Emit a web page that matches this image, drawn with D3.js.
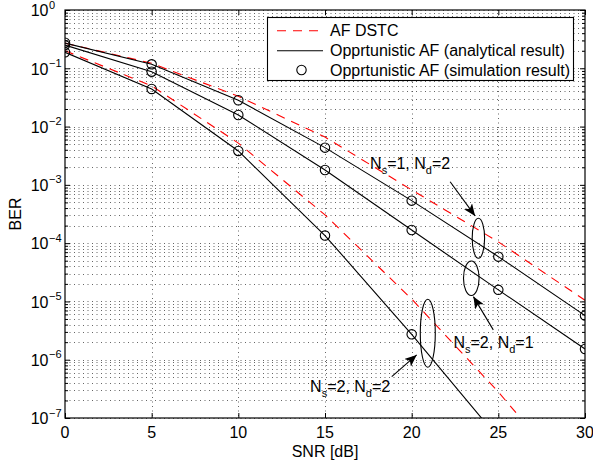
<!DOCTYPE html>
<html>
<head>
<meta charset="utf-8">
<script src="https://d3js.org/d3.v7.min.js"></script>
<style>
  body { margin: 0; background: #fff; }
  text { font-family: "Liberation Sans", Arial, Helvetica, sans-serif; }
</style>
</head>
<body>
<script>
// ---- data ----
var snr = [0, 5, 10, 15, 20, 25, 30];
var xTicks = [0, 5, 10, 15, 20, 25, 30];
var yExponents = [0, -1, -2, -3, -4, -5, -6, -7];

// AF DSTC (red dashed)
var afDstcA = [0.27, 0.122, 0.033, 0.0066, 8.2e-4, 1.05e-4, 1.05e-5];
var afDstcB = [0.20, 0.05, 0.0052, 3.05e-4, 1.1e-5, 2.8e-7, 5e-9];

// opportunistic AF, analytical (black solid)
var oppAnaS1D2 = [0.27, 0.117, 0.0283, 0.00435, 5.36e-4, 5.87e-5, 5.71e-6];
var oppAnaS2D1 = [0.25, 0.0875, 0.0158, 0.0018, 1.68e-4, 1.58e-5, 1.53e-6];
var oppAnaS2D2 = [0.188, 0.0442, 0.00382, 1.35e-4, 2.73e-6, 4.5e-8, 6e-10];

// opportunistic AF, simulation (circles)
var oppSimS1D2 = [0.275, 0.117, 0.0283, 0.00435, 5.36e-4, 5.87e-5, 5.71e-6];
var oppSimS2D1 = [0.25, 0.0875, 0.0158, 0.0018, 1.68e-4, 1.58e-5, 1.53e-6];
var oppSimS2D2 = [0.188, 0.0442, 0.00382, 1.35e-4, 2.73e-6];

var legendLabels = ['AF DSTC', 'Opprtunistic AF (analytical result)', 'Opprtunistic AF (simulation result)'];

var W = 593, H = 468;
var pLeft = 65, pRight = 585, pTop = 10, pBottom = 418;
var fs = '16px', fsSmall = '11px';

var svg = d3.select('body').append('svg').attr('width', W).attr('height', H);

var x = d3.scaleLinear().domain([0, 30]).range([pLeft, pRight]);
var y = d3.scaleLog().domain([1e-7, 1]).range([pBottom, pTop]);

var majorY = yExponents.map(function (e) { return Math.pow(10, e); });
var minorY = [];
for (var e = -7; e < 0; e++) {
    for (var k = 2; k <= 9; k++) minorY.push(k * Math.pow(10, e));
}

svg.append('clipPath').attr('id', 'plotClip')
    .append('rect')
    .attr('x', pLeft).attr('y', pTop)
    .attr('width', pRight - pLeft).attr('height', pBottom - pTop);

// ---- grid ----
var grid = svg.append('g')
    .attr('stroke', '#000')
    .attr('stroke-width', 0.8)
    .attr('stroke-dasharray', '1,3.5')
    .attr('opacity', 0.75);

grid.selectAll('line.hy')
    .data(majorY.concat(minorY))
    .enter().append('line')
    .attr('x1', pLeft).attr('x2', pRight)
    .attr('y1', function (d) { return Math.round(y(d)) + 0.5; })
    .attr('y2', function (d) { return Math.round(y(d)) + 0.5; });

grid.selectAll('line.vx')
    .data(xTicks.slice(1, -1))
    .enter().append('line')
    .attr('y1', pTop).attr('y2', pBottom)
    .attr('x1', function (d) { return Math.round(x(d)) + 0.5; })
    .attr('x2', function (d) { return Math.round(x(d)) + 0.5; });

// ---- curves ----
var plot = svg.append('g').attr('clip-path', 'url(#plotClip)');

var line = d3.line()
    .x(function (d, i) { return x(snr[i]); })
    .y(function (d) { return y(d); });

[afDstcA, afDstcB].forEach(function (s) {
    plot.append('path')
        .attr('d', line(s))
        .attr('fill', 'none')
        .attr('stroke', '#ff0000')
        .attr('stroke-width', 1.1)
        .attr('stroke-dasharray', '9,7');
});

[oppAnaS1D2, oppAnaS2D1, oppAnaS2D2].forEach(function (s) {
    plot.append('path')
        .attr('d', line(s))
        .attr('fill', 'none')
        .attr('stroke', '#000')
        .attr('stroke-width', 1.1);
});

[oppSimS1D2, oppSimS2D1, oppSimS2D2].forEach(function (s) {
    plot.selectAll(null)
        .data(s)
        .enter().append('circle')
        .attr('cx', function (d, i) { return x(snr[i]); })
        .attr('cy', function (d) { return y(d); })
        .attr('r', 4.7)
        .attr('fill', 'none')
        .attr('stroke', '#000')
        .attr('stroke-width', 1.1);
});

// ---- axes box and ticks ----
svg.append('rect')
    .attr('x', pLeft).attr('y', pTop)
    .attr('width', pRight - pLeft).attr('height', pBottom - pTop)
    .attr('fill', 'none').attr('stroke', '#000').attr('stroke-width', 1.2);

var noLabel = function () { return ''; };
function tickAxis(axis, transform) {
    var g = svg.append('g').attr('transform', transform).call(axis);
    g.select('.domain').remove();
    g.selectAll('line').attr('stroke', '#000');
    return g;
}
tickAxis(d3.axisBottom(x).tickValues(xTicks).tickSize(-5).tickFormat(noLabel), 'translate(0,' + pBottom + ')');
tickAxis(d3.axisTop(x).tickValues(xTicks).tickSize(-5).tickFormat(noLabel), 'translate(0,' + pTop + ')');
tickAxis(d3.axisLeft(y).tickValues(majorY).tickSize(-5).tickFormat(noLabel), 'translate(' + pLeft + ',0)');
tickAxis(d3.axisRight(y).tickValues(majorY).tickSize(-5).tickFormat(noLabel), 'translate(' + pRight + ',0)');
tickAxis(d3.axisLeft(y).tickValues(minorY).tickSize(-3).tickFormat(noLabel), 'translate(' + pLeft + ',0)');
tickAxis(d3.axisRight(y).tickValues(minorY).tickSize(-3).tickFormat(noLabel), 'translate(' + pRight + ',0)');

// tick labels
svg.selectAll('text.xt')
    .data(xTicks)
    .enter().append('text')
    .attr('x', function (d) { return x(d); })
    .attr('y', pBottom + 20)
    .attr('text-anchor', 'middle')
    .attr('font-size', fs)
    .text(function (d) { return d; });

var yl = svg.selectAll('g.yt')
    .data(yExponents)
    .enter().append('g')
    .attr('transform', function (d) { return 'translate(0,' + y(Math.pow(10, d)) + ')'; });
yl.append('text')
    .attr('x', 48.5).attr('y', 6.3)
    .attr('text-anchor', 'end')
    .attr('font-size', fs)
    .text('10');
yl.append('text')
    .attr('x', 49).attr('y', -1.5)
    .attr('font-size', fsSmall)
    .text(function (d) { return d === 0 ? '0' : '\u2212' + (-d); });

svg.append('text')
    .attr('x', (pLeft + pRight) / 2).attr('y', 457)
    .attr('text-anchor', 'middle')
    .attr('font-size', fs)
    .text('SNR [dB]');

svg.append('text')
    .attr('transform', 'translate(21,' + (pTop + pBottom) / 2 + ') rotate(-90)')
    .attr('text-anchor', 'middle')
    .attr('font-size', fs)
    .text('BER');

// ---- annotations (data coordinates) ----
var defs = svg.append('defs');
defs.append('marker')
    .attr('id', 'head')
    .attr('viewBox', '0 0 12 10')
    .attr('refX', 12).attr('refY', 5)
    .attr('markerWidth', 12).attr('markerHeight', 10)
    .attr('markerUnits', 'userSpaceOnUse')
    .attr('orient', 'auto')
    .append('path')
    .attr('d', 'M0,0 L12,5 L0,10 L3,5 Z')
    .attr('fill', '#000');

var notes = [
    { s: '1', d: '2', tx: 17.6, ty: 1.85e-3, ax1: 22.22, ay1: 1.13e-3, ax2: 23.66, ay2: 2.93e-4, ex: 23.85, ey: 1.21e-4, rx: 6.2, ry: 20 },
    { s: '2', d: '1', tx: 22.41, ty: 1.57e-6, ax1: 24.71, ay1: 3.25e-6, ax2: 23.56, ay2: 1.21e-5, ex: 23.44, ey: 2.5e-5, rx: 7.8, ry: 17.3 },
    { s: '2', d: '2', tx: 14.14, ty: 2.84e-7, ax1: 18.85, ay1: 5.13e-7, ax2: 20.29, ay2: 1.21e-6, ex: 20.93, ey: 2.85e-6, rx: 7.5, ry: 34 }
];

notes.forEach(function (n) {
    svg.append('ellipse')
        .attr('cx', x(n.ex)).attr('cy', y(n.ey))
        .attr('rx', n.rx).attr('ry', n.ry)
        .attr('fill', 'none').attr('stroke', '#000').attr('stroke-width', 1.1);
    svg.append('line')
        .attr('x1', x(n.ax1)).attr('y1', y(n.ay1))
        .attr('x2', x(n.ax2)).attr('y2', y(n.ay2))
        .attr('stroke', '#000').attr('stroke-width', 1.1)
        .attr('marker-end', 'url(#head)');
    var t = svg.append('text')
        .attr('x', x(n.tx)).attr('y', y(n.ty))
        .attr('font-size', fs);
    t.append('tspan').text('N');
    t.append('tspan').attr('dy', 5).attr('font-size', fsSmall).text('s');
    t.append('tspan').attr('dy', -5).text('=' + n.s + ', N');
    t.append('tspan').attr('dy', 5).attr('font-size', fsSmall).text('d');
    t.append('tspan').attr('dy', -5).text('=' + n.d);
});

// ---- legend ----
var lg = svg.append('g');
lg.append('rect')
    .attr('x', 267.5).attr('y', 17.5)
    .attr('width', 306).attr('height', 63)
    .attr('fill', '#fff').attr('stroke', '#000').attr('stroke-width', 1.1);
var rowY = [30.7, 50.7, 70];
lg.append('line')
    .attr('x1', 277).attr('x2', 323).attr('y1', rowY[0]).attr('y2', rowY[0])
    .attr('stroke', '#ff0000').attr('stroke-width', 1.1).attr('stroke-dasharray', '9,7');
lg.append('line')
    .attr('x1', 277).attr('x2', 323).attr('y1', rowY[1]).attr('y2', rowY[1])
    .attr('stroke', '#000').attr('stroke-width', 1.1);
lg.append('circle')
    .attr('cx', 301.5).attr('cy', rowY[2]).attr('r', 4.7)
    .attr('fill', 'none').attr('stroke', '#000').attr('stroke-width', 1.1);
lg.selectAll('text')
    .data(legendLabels)
    .enter().append('text')
    .attr('x', 330)
    .attr('y', function (d, i) { return rowY[i] + 5.7; })
    .attr('font-size', fs)
    .text(function (d) { return d; });
</script>
</body>
</html>
